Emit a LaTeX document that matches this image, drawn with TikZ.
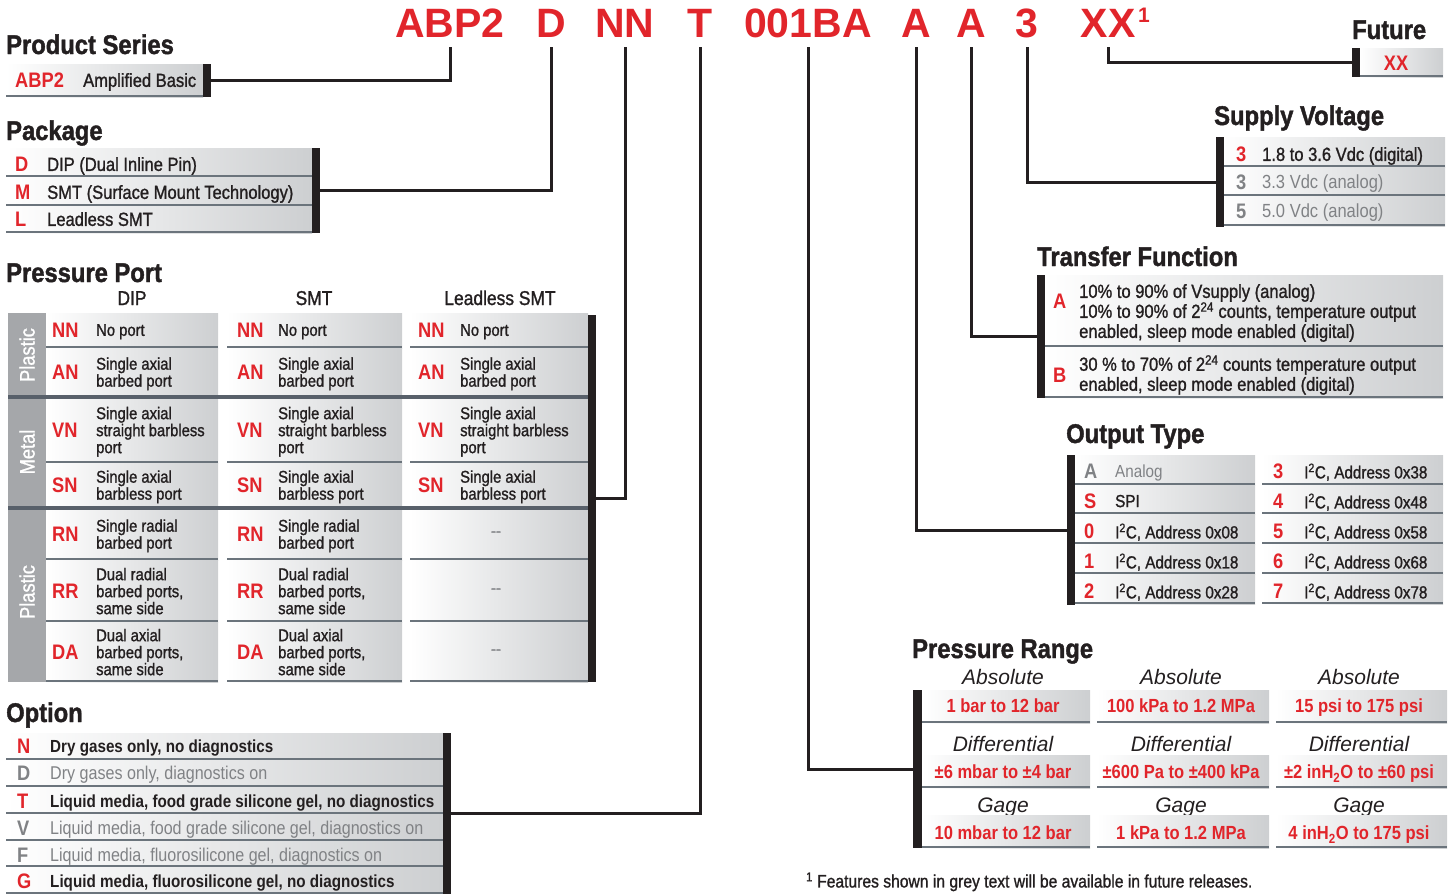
\documentclass[tikz,border=0pt]{standalone}
\usepackage{fontspec}
\setmainfont{Liberation Sans}[FakeStretch=0.87]
\newfontfamily\widefont{Liberation Sans}
\newfontfamily\medfont{Liberation Sans}[FakeStretch=0.87, FakeBold=1.2]
\newfontfamily\headfont{Liberation Sans}[FakeStretch=0.88, FakeBold=1.5]
\usepackage{tikz}
\usetikzlibrary{positioning}

\definecolor{hred}{HTML}{E1252B}
\definecolor{ink}{HTML}{231F20}
\definecolor{fgray}{HTML}{808285}
\definecolor{cellgray}{HTML}{CDCFD1}
\definecolor{sepgray}{HTML}{6B747C}
\definecolor{sepdark}{HTML}{58606A}
\definecolor{bandgray}{HTML}{A5A7AA}

% one shaded row with its rule underneath
\newcommand\cellrow[4]{%
  \shade[left color=white, right color=cellgray] (#1,#2) rectangle (#3,#4);
  \draw[sep] (#1,#4-1) -- (#3,#4-1);}

\begin{document}
\begin{tikzpicture}[x=1pt, y=-1pt,
		title/.style={anchor=base west, inner sep=0pt, text=ink, font=\headfont\fontsize{27}{27}\selectfont\bfseries},
		code/.style={anchor=base, inner sep=0pt, outer ysep=10pt, text=hred, font=\widefont\fontsize{41}{41}\selectfont\bfseries},
		rcode/.style={anchor=west, inner sep=0pt, text depth=0pt, text=hred, font=\fontsize{21}{21}\selectfont\bfseries},
		gcode/.style={rcode, text=fgray},
		txt/.style={anchor=west, inner sep=0pt, text depth=0pt, align=left, text=ink, font=\medfont\fontsize{19}{20}\selectfont},
		gtxt/.style={txt, text=fgray, font=\rmfamily\fontsize{19}{20}\selectfont},
		ptxt/.style={txt, font=\medfont\fontsize{17}{17}\selectfont},
		otxt/.style={txt, font=\medfont\fontsize{17.5}{18}\selectfont},
		ogtxt/.style={otxt, text=fgray, font=\rmfamily\fontsize{17.5}{18}\selectfont},
		obold/.style={txt, font=\fontsize{17.5}{18}\selectfont\bfseries},
		ogray/.style={txt, text=fgray, font=\rmfamily\fontsize{18.5}{19}\selectfont},
		colhead/.style={anchor=base, inner sep=0pt, text=ink, font=\medfont\fontsize{20}{20}\selectfont},
		prhead/.style={inner sep=0pt, text depth=0pt, text=ink, font=\widefont\fontsize{21}{21}\selectfont\itshape},
		prval/.style={inner sep=0pt, text depth=0pt, text=hred, font=\fontsize{19}{19}\selectfont\bfseries},
		band/.style={rotate=90, inner sep=0pt, text depth=0pt, text=white, font=\medfont\fontsize{21}{21}\selectfont},
		bar/.style={fill=ink, inner sep=0pt, outer sep=0pt, minimum width=8pt, anchor=north west},
		sep/.style={draw=sepgray, line width=2pt},
		thicksep/.style={draw=sepdark, line width=4pt},
		conn/.style={draw=ink, line width=3pt}]

	\useasboundingbox (0,0) rectangle (1449,894);

	% part number
	\node[code] (cABP2) at (450,37) {ABP2};
	\node[code] (cD) at (551,37) {D};
	\node[code] (cNN) at (625,37) {NN};
	\node[code] (cT) at (700,37) {T};
	\node[code] (c001BA) at (808,37) {001BA};
	\node[code] (cA1) at (916,37) {A};
	\node[code] (cA2) at (971,37) {A};
	\node[code] (c3) at (1027,37) {3};
	\node[code] (cXX) at (1108,37) {XX};
	\node[anchor=base west, inner sep=0pt, text=hred, font=\widefont\fontsize{21}{21}\selectfont\bfseries] (cXXsup) at (1138,22) {1};

	% product series
	\node[title] (psT) at (6,54) {Product Series};
	\cellrow{6}{64}{203}{97}
	\node[bar, minimum height=33pt] (psbar) at (203,64) {};
	\node[rcode] (psc) at (15,80) {ABP2};
	\node[txt] (pst) at (83,80) {Amplified Basic};

	% package
	\node[title] (pkgT) at (6,140) {Package};
	\foreach \ya/\yb in {148/177,177/206,206/233} {\cellrow{6}{\ya}{312}{\yb}}
	\node[bar, minimum height=85pt] (pkgbar) at (312,148) {};
	\foreach \y/\cd/\tx [count=\i] in {164/D/{DIP (Dual Inline Pin)}, 192/M/{SMT (Surface Mount Technology)}, 219/L/{Leadless SMT}} {
		\node[rcode] (pkgc\i) at (15,\y) {\cd};
		\node[txt] (pkgt\i) at (47,\y) {\tx};
	}

	% pressure port
	\node[title] (ppT) at (6,282) {Pressure Port};
	\node[colhead] (hdip) at (132,305) {DIP};
	\node[colhead] (hsmt) at (314,305) {SMT};
	\node[colhead] (hlsmt) at (500,305) {Leadless SMT};
	\fill[bandgray] (8,313) rectangle (46,682);
	\foreach \ya/\yb in {313/348,348/397,397/463,463/508,508/560,560/622,622/682} {
		\foreach \xa/\xb in {46/218,227/402,410/588} {\cellrow{\xa}{\ya}{\xb}{\yb}}
	}
	\draw[thicksep] (8,397) -- (588,397);
	\draw[thicksep] (8,508) -- (588,508);
	\node[bar, minimum height=367pt] (ppbar) at (588,315) {};
	\node[band] (mat1) at (27,355) {Plastic};
	\node[band] (mat2) at (27,452) {Metal};
	\node[band] (mat3) at (27,592) {Plastic};
	\foreach \y/\cd/\tx [count=\i] in {330/NN/{No port}, 372/AN/{Single axial\\barbed port}, 430/VN/{Single axial\\straight barbless\\port}, 485/SN/{Single axial\\barbless port}, 534/RN/{Single radial\\barbed port}, 591/RR/{Dual radial\\barbed ports,\\same side}, 652/DA/{Dual axial\\barbed ports,\\same side}} {
		\node[rcode] (dipc\i) at (52,\y) {\cd};
		\node[ptxt] (dipt\i) at (96,\y) {\tx};
		\node[rcode] (smtc\i) at (237,\y) {\cd};
		\node[ptxt] (smtt\i) at (278,\y) {\tx};
	}
	\foreach \y/\cd/\tx [count=\i] in {330/NN/{No port}, 372/AN/{Single axial\\barbed port}, 430/VN/{Single axial\\straight barbless\\port}, 485/SN/{Single axial\\barbless port}} {
		\node[rcode] (lsc\i) at (418,\y) {\cd};
		\node[ptxt] (lst\i) at (460,\y) {\tx};
	}
	\foreach \y [count=\i] in {534,591,652}
		\node[ptxt, anchor=center, text=fgray] (lsd\i) at (496,\y) {--};

	% option
	\node[title] (optT) at (6,722) {Option};
	\foreach \ya/\yb in {733/760,760/787,787/814,814/841,841/867,867/894} {\cellrow{6}{\ya}{443}{\yb}}
	\node[bar, minimum height=161pt] (optbar) at (443,733) {};
	\foreach \y/\cd/\cs/\ts/\tx [count=\i] in {746/N/rcode/obold/{Dry gases only, no diagnostics}, 773/D/gcode/ogray/{Dry gases only, diagnostics on}, 801/T/rcode/obold/{Liquid media, food grade silicone gel, no diagnostics}, 828/V/gcode/ogray/{Liquid media, food grade silicone gel, diagnostics on}, 855/F/gcode/ogray/{Liquid media, fluorosilicone gel, diagnostics on}, 881/G/rcode/obold/{Liquid media, fluorosilicone gel, no diagnostics}} {
		\node[\cs] (optc\i) at (17,\y) {\cd};
		\node[\ts] (optt\i) at (50,\y) {\tx};
	}

	% future
	\node[title] (fuT) at (1352,39) {Future};
	\cellrow{1360}{48}{1443}{77}
	\node[bar, minimum height=29pt] (fubar) at (1352,48) {};
	\node[rcode, anchor=center] (fuc) at (1396,63) {XX};

	% supply voltage
	\node[title] (svT) at (1214,125) {Supply Voltage};
	\foreach \ya/\yb in {137/167,167/196,196/226} {\cellrow{1223}{\ya}{1445}{\yb}}
	\node[bar, minimum height=90pt] (svbar) at (1216,137) {};
	\foreach \y/\cd/\cs/\ts/\tx [count=\i] in {154/3/rcode/txt/{1.8 to 3.6 Vdc (digital)}, 182/3/gcode/gtxt/{3.3 Vdc (analog)}, 211/5/gcode/gtxt/{5.0 Vdc (analog)}} {
		\node[\cs] (svc\i) at (1236,\y) {\cd};
		\node[\ts] (svt\i) at (1262,\y) {\tx};
	}

	% transfer function
	\node[title] (tfT) at (1037,266) {Transfer Function};
	\foreach \ya/\yb in {275/347,347/398} {\cellrow{1044}{\ya}{1443}{\yb}}
	\node[bar, minimum height=123pt] (tfbar) at (1037,275) {};
	\node[rcode] (tfc1) at (1053,301) {A};
	\node[rcode] (tfc2) at (1053,375) {B};
	\node[txt] (tft1) at (1079,311) {10\% to 90\% of Vsupply (analog)\\10\% to 90\% of 2\textsuperscript{24} counts, temperature output\\enabled, sleep mode enabled (digital)};
	\node[txt] (tft2) at (1079,373) {30 \% to 70\% of 2\textsuperscript{24} counts temperature output\\enabled, sleep mode enabled (digital)};

	% output type
	\node[title] (otT) at (1066,443) {Output Type};
	\foreach \ya/\yb in {455/485,485/514,514/544,544/574,574/604} {
		\cellrow{1075}{\ya}{1255}{\yb}
		\cellrow{1262}{\ya}{1443}{\yb}
	}
	\node[bar, minimum height=150pt] (otbar) at (1067,455) {};
	\foreach \y/\cd/\cs/\ts/\tx [count=\i] in {471/A/gcode/ogtxt/{Analog}, 501/S/rcode/otxt/{SPI}, 531/0/rcode/otxt/{I\textsuperscript{2}C, Address 0x08}, 561/1/rcode/otxt/{I\textsuperscript{2}C, Address 0x18}, 591/2/rcode/otxt/{I\textsuperscript{2}C, Address 0x28}} {
		\node[\cs] (otc\i) at (1084,\y) {\cd};
		\node[\ts] (ott\i) at (1115,\y) {\tx};
	}
	\foreach \y/\cd [count=\i] in {471/3, 501/4, 531/5, 561/6, 591/7} {
		\node[rcode] (otrc\i) at (1273,\y) {\cd};
		\node[otxt] (otrt\i) at (1304,\y) {I\textsuperscript{2}C, Address 0x\cd8};
	}

	% pressure range
	\node[title] (prT) at (912,658) {Pressure Range};
	\foreach \y/\hd [count=\j] in {677/Absolute, 744/Differential, 805/Gage} {
		\foreach \x [count=\i] in {1003,1181,1359} {\node[prhead] (prh\j\i) at (\x,\y) {\hd};}
	}
	\foreach \ya/\yb in {690/723,755/788,815/848} {
		\foreach \xa/\xb in {922/1090,1097/1269,1276/1447} {\cellrow{\xa}{\ya}{\xb}{\yb}}
	}
	\node[bar, minimum height=158pt, minimum width=9pt] (prbar) at (913,690) {};
	\node[prval] (prv11) at (1003,706) {1 bar to 12 bar};
	\node[prval] (prv12) at (1181,706) {100 kPa to 1.2 MPa};
	\node[prval] (prv13) at (1359,706) {15 psi to 175 psi};
	\node[prval] (prv21) at (1003,772) {±6 mbar to ±4 bar};
	\node[prval] (prv22) at (1181,772) {±600 Pa to ±400 kPa};
	\node[prval] (prv23) at (1359,772) {±2 inH\textsubscript{2}O to ±60 psi};
	\node[prval] (prv31) at (1003,833) {10 mbar to 12 bar};
	\node[prval] (prv32) at (1181,833) {1 kPa to 1.2 MPa};
	\node[prval] (prv33) at (1359,833) {4 inH\textsubscript{2}O to 175 psi};

	\node[ptxt, font=\medfont\fontsize{18}{18}\selectfont] (fn) at (806,880) {\textsuperscript{1} Features shown in grey text will be available in future releases.};

	% connectors
	\draw[conn] (cABP2.south) |- (psbar.east);
	\draw[conn] (cD.south) |- (pkgbar.east);
	\draw[conn] (cNN.south) |- (ppbar.east);
	\draw[conn] (cT.south) |- (optbar.east);
	\draw[conn] (c001BA.south) |- (prbar.west);
	\draw[conn] (cA1.south) |- (otbar.west);
	\draw[conn] (cA2.south) |- (tfbar.west);
	\draw[conn] (c3.south) |- (svbar.west);
	\draw[conn] (cXX.south) |- (fubar.west);
\end{tikzpicture}
\end{document}
